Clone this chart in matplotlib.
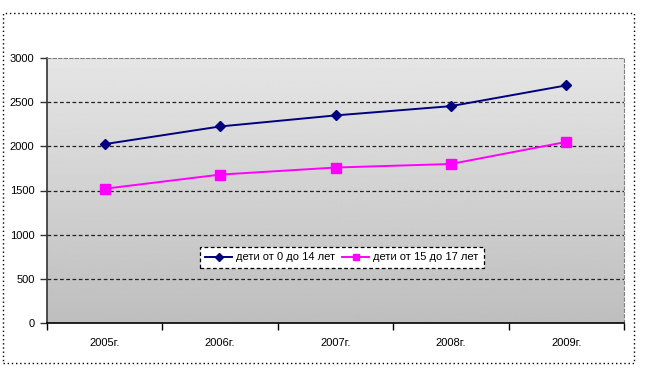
import numpy as np
import matplotlib.pyplot as plt
from matplotlib.patches import Rectangle

plt.rcParams['font.family'] = ['Liberation Sans', 'DejaVu Sans']

# данные
years = ['2005г.', '2006г.', '2007г.', '2008г.', '2009г.']
kids_0_14 = [2025, 2225, 2350, 2455, 2690]
kids_15_17 = [1520, 1680, 1760, 1800, 2050]
label_0_14 = 'дети от 0 до 14 лет'
label_15_17 = 'дети от 15 до 17 лет'

fig = plt.figure(figsize=(6.63, 3.71), dpi=100)

# внешняя пунктирная рамка
fig.patches.append(Rectangle((2.5 / 663, 1 - 363 / 371), 631 / 663, 350.5 / 371,
                             transform=fig.transFigure, fill=False,
                             edgecolor='black', linestyle=(0, (1, 2)), linewidth=1.0))

ax = fig.add_axes([47 / 663, 1 - 323 / 371, 577 / 663, 265 / 371])

x = np.arange(len(years))

# градиентный фон (светлее сверху)
grad = np.linspace(0.90, 0.745, 256).reshape(-1, 1)
ax.imshow(grad, extent=[-0.5, len(years) - 0.5, 0, 3000], aspect='auto',
          cmap='gray', vmin=0, vmax=1, zorder=0, origin='upper')
ax.set_xlim(-0.5, len(years) - 0.5)
ax.set_ylim(0, 3000)

# сетка
for yv in [500, 1000, 1500, 2000, 2500]:
    ax.axhline(yv, color='#222222', linestyle=(0, (3, 2)), linewidth=0.9, zorder=1)

ax.plot(x, kids_0_14, color='#000080', marker='D', markersize=5.5, linewidth=1.4,
        label=label_0_14, zorder=3)
ax.plot(x, kids_15_17, color='#ff00ff', marker='s', markersize=7, linewidth=1.4,
        label=label_15_17, zorder=3)

ax.set_yticks(np.arange(0, 3001, 500))
ax.set_xticks(x)
ax.set_xticklabels(years)
ax.set_xticks(np.arange(-0.5, len(years), 1), minor=True)
ax.tick_params(axis='x', which='major', length=0, pad=11, labelsize=8)
ax.tick_params(axis='x', which='minor', length=5, width=1, direction='out', color='black')
ax.tick_params(axis='y', length=5, width=1, labelsize=8, color='#333333', pad=4)

ax.spines['top'].set_color('#808080')
ax.spines['top'].set_linestyle((0, (3, 2)))
ax.spines['right'].set_color('#808080')
ax.spines['right'].set_linestyle((0, (3, 2)))
ax.spines['left'].set_color('#333333')
ax.spines['left'].set_linewidth(1.2)
ax.spines['bottom'].set_color('black')
ax.spines['bottom'].set_linewidth(1.2)

leg = ax.legend(loc='center', bbox_to_anchor=((342 - 47) / 577, (323 - 257.5) / 265),
                ncol=2, fontsize=8, frameon=True, fancybox=False,
                handlelength=2.4, columnspacing=0.6, handletextpad=0.4,
                borderpad=0.5, borderaxespad=0.0, markerscale=0.7)
leg.get_frame().set_edgecolor('black')
leg.get_frame().set_facecolor('white')
leg.get_frame().set_linestyle((0, (3, 2)))
leg.get_frame().set_linewidth(0.9)
leg.get_frame().set_alpha(1)

plt.savefig('out.png', dpi=100)
